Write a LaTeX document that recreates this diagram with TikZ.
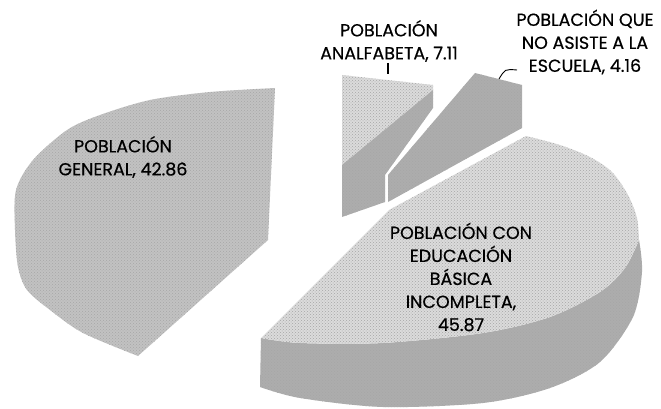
\documentclass[tikz,border=0pt]{standalone}
\usepackage{fontspec}
\newfontfamily\lblfont{Poppins}[FakeBold=0.5]
\usetikzlibrary{patterns}
\definecolor{facelight}{gray}{0.86}
\definecolor{facemid}{gray}{0.76}
\definecolor{sidedark}{gray}{0.68}

\begin{document}
\begin{tikzpicture}[x=1pt,y=-1pt,
  stipple/.style={postaction={pattern=crosshatch dots,pattern color=black!35}},
  lbl/.style={align=center,inner sep=0pt,font=\lblfont\fontsize{17.5}{23}\selectfont}]
\useasboundingbox (0,0) rectangle (661,409);

% poblacion general
\path[fill=facemid,stipple] (275,88) -- (268,240) -- (138,356)
  -- plot[smooth] coordinates {(138,356) (83,333) (50,310) (27,290) (18,267) (15,230) (16,190) (33,160) (67,130) (100,115) (150,100) (210,92) (275,88)} -- cycle;

% analfabeta
\path[fill=facelight,stipple] (342,75) -- (433,85) -- (433,90) -- (342,165) -- cycle;
\path[fill=sidedark,stipple] (433,90) -- (433,108) -- (385,175) -- (385,202) -- (342,217) -- (342,165) -- cycle;

% no asiste a la escuela
\path[fill=sidedark,stipple] (388,175) -- (475,73) -- (522,85) -- (522,128) -- (388,202) -- cycle;

% educacion basica incompleta
\path[fill=sidedark,stipple] (261,338)
  -- plot[smooth] coordinates {(261,338) (300,343) (383,343) (483,333) (550,317) (600,292) (625,268) (639,240)}
  -- plot[smooth] coordinates {(639,240) (642,272) (633,317) (600,362) (550,388) (483,403) (383,407) (300,398) (260,387)} -- cycle;
\path[fill=facelight,stipple] (261,338) -- (389,210) -- (526,136)
  -- plot[smooth] coordinates {(526,136) (560,145) (590,157) (612,172) (628,195) (637,218) (639,240)}
  -- plot[smooth] coordinates {(639,240) (625,268) (600,292) (550,317) (483,333) (383,343) (300,343) (261,338)} -- cycle;

\node[lbl] (lblgen) at (123,157) {POBLACIÓN\\GENERAL, 42.86};
\node[lbl] (lblana) at (389,41) {POBLACIÓN\\ANALFABETA, 7.11};
\node[lbl] (lblesc) at (585,42) {POBLACIÓN QUE\\NO ASISTE A LA\\ESCUELA, 4.16};
\node[lbl] (lbledu) at (461,277) {POBLACIÓN CON\\EDUCACIÓN\\BÁSICA\\INCOMPLETA,\\45.87};

\coordinate (anatick) at (388,63);
\coordinate (anapie) at (388,74);
\draw[line width=1.2pt] (anatick) -- (anapie);
\coordinate (escpie) at (499,79);
\coordinate (esclbl) at (517,70);
\draw[line width=0.9pt] (escpie) .. controls (505,69) .. (esclbl);
\end{tikzpicture}
\end{document}
